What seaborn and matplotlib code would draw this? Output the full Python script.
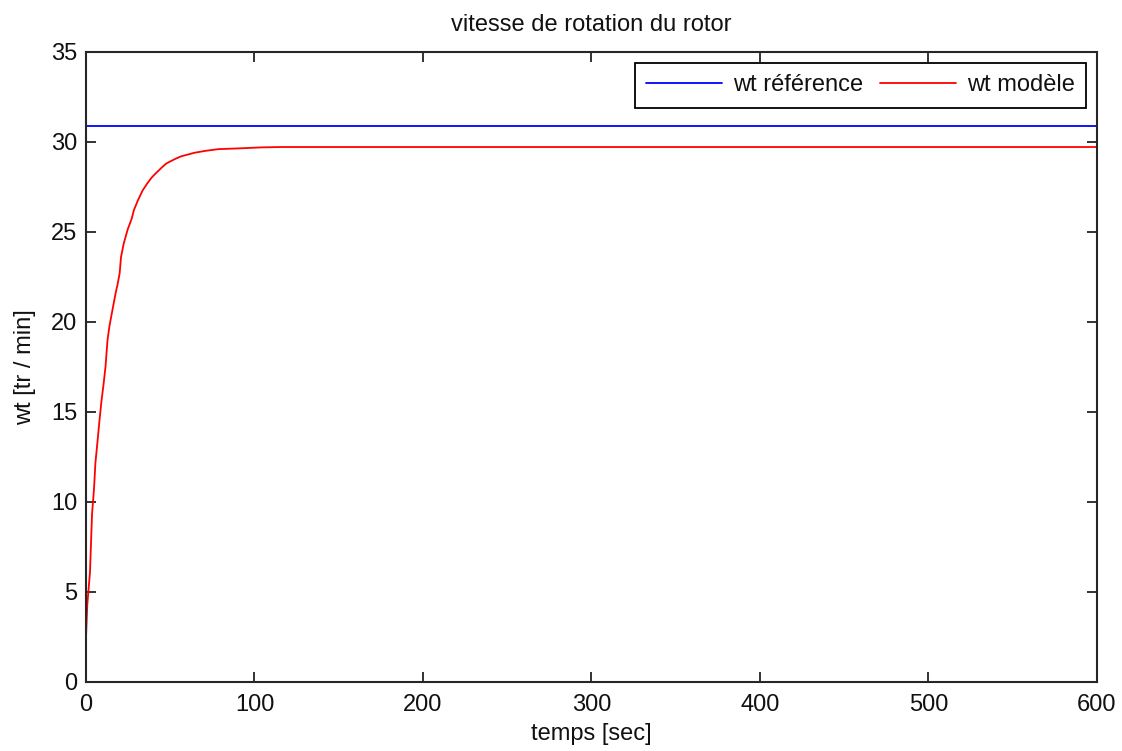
import matplotlib
matplotlib.use("Agg")
import matplotlib.pyplot as plt
import seaborn as sns
import pandas as pd

# Data
t_model = [0, 0.0, 0.8, 2.4, 3.6, 4.8, 5.6, 6.8, 8.0, 9.2, 10.4, 11.6, 12.8, 14.0, 15.2,
           16.4, 17.6, 18.8, 20.0, 20.8, 22.4, 23.6, 24.8, 27.2, 28.4, 30.8, 33.6, 36.4,
           38.8, 40.8, 45.2, 47.6, 52.8, 56.4, 60.4, 64.4, 70.4, 78.4, 92.4, 104.4, 116.4,
           200, 300, 400, 500, 600]
wt_model = [0, 2.4, 4.3, 6.1, 9.3, 10.75, 12.15, 13.3, 14.5, 15.6, 16.5, 17.5, 19.0, 19.8,
            20.4, 21.0, 21.6, 22.1, 22.7, 23.6, 24.35, 24.75, 25.15, 25.75, 26.2, 26.75,
            27.3, 27.7, 28.0, 28.2, 28.6, 28.8, 29.05, 29.2, 29.3, 29.4, 29.5, 29.6, 29.65,
            29.7, 29.72, 29.72, 29.72, 29.72, 29.72, 29.72]
t_ref = [0, 600]
wt_ref = [30.9, 30.9]

title = "vitesse de rotation du rotor"
xlabel = "temps [sec]"
ylabel = "wt [tr / min]"
labels = ["wt référence", "wt modèle"]

sns.set_style("white")
plt.rcParams['font.family'] = ['Liberation Sans', 'DejaVu Sans']
plt.rcParams['text.color'] = '#111111'
plt.rcParams['axes.labelcolor'] = '#111111'

fig = plt.figure(figsize=(11.22, 7.51), dpi=100)
ax = fig.add_axes([0.0766, 0.0919, 0.9011, 0.8389])

df_ref = pd.DataFrame({"t": t_ref, "wt": wt_ref})
df_mod = pd.DataFrame({"t": t_model, "wt": wt_model})
sns.lineplot(data=df_ref, x="t", y="wt", ax=ax, color="#0000ff", lw=1.3, label=labels[0],
             estimator=None, sort=False)
sns.lineplot(data=df_mod, x="t", y="wt", ax=ax, color="#ff0000", lw=1.3, label=labels[1],
             estimator=None, sort=False)

ax.set_xlim(0, 600)
ax.set_ylim(0, 35)
ax.set_xticks(range(0, 601, 100))
ax.set_yticks(range(0, 36, 5))
ax.tick_params(direction="in", length=7.5, width=1.2, top=True, right=True,
               bottom=True, left=True, labelsize=17, pad=6, colors="#111111",
               labelcolor="#111111")
ax.tick_params(axis="x", pad=9)
for s in ax.spines.values():
    s.set_visible(True)
    s.set_color("#262626")
    s.set_linewidth(1.5)

ax.set_title(title, fontsize=17, pad=15)
ax.set_xlabel(xlabel, fontsize=17, labelpad=5)
ax.set_ylabel(ylabel, fontsize=17, labelpad=11)

leg = ax.legend(loc="upper right", ncol=2, fontsize=17, frameon=True, fancybox=False,
                framealpha=1, edgecolor="#000000", handlelength=3.2, handletextpad=0.45,
                columnspacing=0.75, borderaxespad=0.45, borderpad=0.5)
leg.get_frame().set_linewidth(1.3)

fig.savefig("out.png", dpi=100)
